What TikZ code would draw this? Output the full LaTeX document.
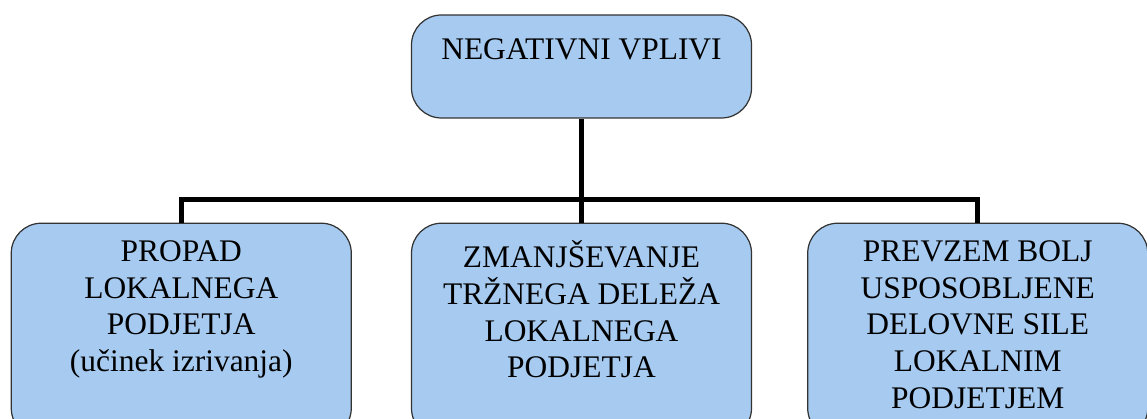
\documentclass[tikz,border=0pt]{standalone}
\usepackage{fontspec}
\setmainfont{Liberation Serif}
\usetikzlibrary{positioning}

\definecolor{boxblue}{RGB}{166,202,240}

\tikzset{
  box/.style={draw=black!80, line width=0.7pt, fill=boxblue, rounded corners=0.6cm,
    minimum width=6.8cm, inner sep=0pt},
  txt/.style={align=center, inner sep=0pt, execute at begin node=\strut,
    font=\fontsize{17.9}{20.8}\selectfont},
  conn/.style={line width=2.8pt}
}

\begin{document}
\begin{tikzpicture}
  \clip (0,0) rectangle (22.94,-8.38);

  \node[box, minimum height=2.06cm] (neg) at (11.63,-1.33) {};
  \node[box, minimum height=4.3cm, below=2.08cm of neg, anchor=north] (zmanj) {};
  \node[box, minimum height=4.3cm, left=1.18cm of zmanj] (propad) {};
  \node[box, minimum height=4.3cm, right=1.1cm of zmanj] (prevzem) {};

  \node[txt, below=0.39cm of neg.north] {NEGATIVNI VPLIVI};
  \node[txt, below=0.36cm of propad.north] {PROPAD\\LOKALNEGA\\PODJETJA\\(učinek izrivanja)};
  \node[txt, below=0.36cm of zmanj.north] {ZMANJŠEVANJE\\TRŽNEGA DELEŽA\\LOKALNEGA\\PODJETJA};
  \node[txt, below=0.36cm of prevzem.north] {PREVZEM BOLJ\\USPOSOBLJENE\\DELOVNE SILE\\LOKALNIM\\PODJETJEM};

  \coordinate[above=0.46cm of zmanj.north] (split);
  \draw[conn] (neg) -- (zmanj);
  \draw[conn] (propad.north) |- (split) -| (prevzem.north);
\end{tikzpicture}
\end{document}
